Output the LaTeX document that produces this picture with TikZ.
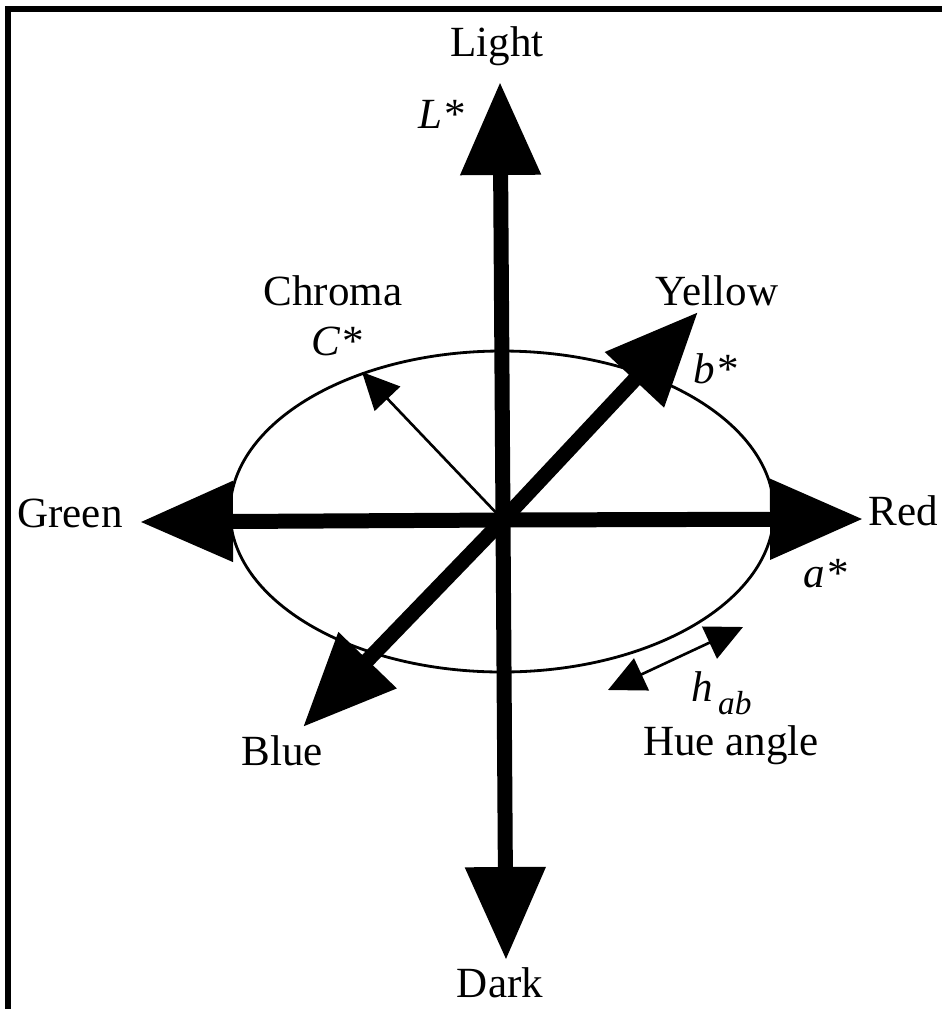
\documentclass[tikz,border=0pt]{standalone}
\usepackage{fontspec}
\setmainfont{Liberation Serif}
\usetikzlibrary{arrows.meta}
\tikzset{
  axis/.style={line width=0.3cm,-{Triangle[length=1.86cm,width=1.54cm]}},
  thinarrow/.style={line width=1.5pt,-{Triangle[length=0.74cm,width=0.7cm]}},
  bothways/.style={line width=1.5pt,{Triangle[length=0.74cm,width=0.7cm]}-{Triangle[length=0.74cm,width=0.7cm]}},
  lab/.style={anchor=base,font=\fontsize{24.5}{28}\selectfont},
  var/.style={anchor=base,font=\fontsize{24.5}{28}\selectfont\itshape}
}
\begin{document}
\begin{tikzpicture}[x=0.02cm,y=-0.02cm]
\useasboundingbox (0,0) rectangle (942,1009);
\draw[line width=0.12cm] (8,1009) -- (8,9) -- (942,9);
% colour solid
\draw[line width=1.6pt] (502,511.5) ellipse [x radius=272,y radius=160.5];
\coordinate (O) at (503,520);
\coordinate (lighttip) at (500,82);
\coordinate (darktip) at (506,960);
\coordinate (greentip) at (140,522);
\coordinate (redtip) at (863,519);
\coordinate (yellowtip) at (698,312);
\coordinate (bluetip) at (303,727);
\coordinate (chromatip) at (362,372);
\coordinate (hueA) at (608,690);
\coordinate (hueB) at (743,627);
\draw[axis] (O) -- (lighttip);
\draw[axis] (O) -- (darktip);
\draw[axis] (O) -- (greentip);
\draw[axis] (O) -- (redtip);
\draw[axis] (O) -- (yellowtip);
\draw[axis] (O) -- (bluetip);
\draw[thinarrow] (O) -- (chromatip);
\draw[bothways] (hueA) -- (hueB);
% labels
\node[lab] (light) at (497,56) {Light};
\node[var] (Lstar) at (441,128) {L*};
\node[lab] (chroma) at (333,305) {Chroma};
\node[var] (Cstar) at (337,355) {C*};
\node[lab] (yellow) at (717,305) {Yellow};
\node[var] (bstar) at (715,383) {b*};
\node[lab] (green) at (70,527) {Green};
\node[lab] (red) at (903,525) {Red};
\node[var] (astar) at (825,587) {a*};
\node[var,anchor=base west,inner sep=0pt] (hab) at (691,701) {h\kern3pt\raisebox{-0.26cm}{\fontsize{19}{22}\selectfont ab}};
\node[lab,inner sep=0pt,text height=0.66em] (hue) at (731,755) {Hue angle};
\node[lab] (blue) at (282,765) {Blue};
\node[lab] (dark) at (500,997) {Dark};
\end{tikzpicture}
\end{document}
